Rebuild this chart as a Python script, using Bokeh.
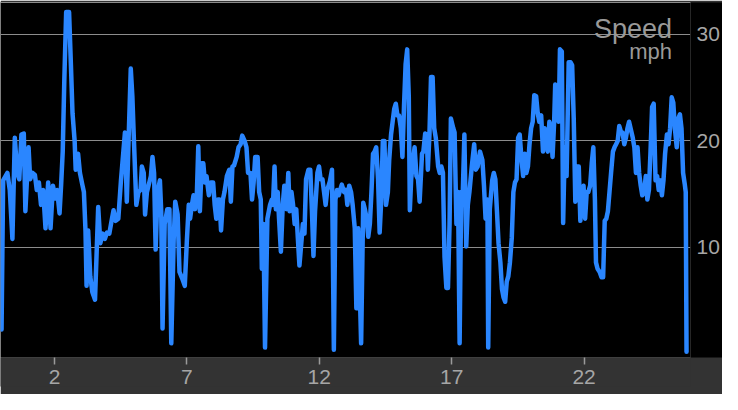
from bokeh.plotting import figure
from bokeh.models import Range1d, LinearAxis, FixedTicker, Label, ColumnDataSource
from bokeh.embed import file_html
from bokeh.resources import INLINE

# distance (mi) and speed (mph)
distance_mi = [
    0.00, 0.06, 0.22, 0.31, 0.41, 0.50, 0.59, 0.67, 0.75, 0.84, 0.90, 1.02, 1.08, 1.17, 1.26, 1.33,
    1.41, 1.49, 1.57, 1.66, 1.76, 1.85, 1.94, 2.04, 2.10, 2.19, 2.25, 2.31, 2.37, 2.44, 2.55, 2.62,
    2.68, 2.76, 2.80, 2.89, 2.96, 3.05, 3.11, 3.17, 3.21, 3.27, 3.35, 3.43, 3.53,
    3.65, 3.73, 3.82, 3.90, 3.98, 4.07, 4.17, 4.23, 4.31, 4.41, 4.51, 4.60, 4.66, 4.73, 4.80, 4.88,
    4.94, 5.00, 5.09, 5.17, 5.25, 5.30, 5.37, 5.42, 5.49, 5.58, 5.64, 5.70, 5.76, 5.82, 5.89, 5.98,
    6.03, 6.08, 6.16, 6.26, 6.34, 6.41, 6.50, 6.56, 6.65, 6.72, 6.82, 6.92,
    7.00, 7.07, 7.12, 7.19, 7.25, 7.31, 7.37, 7.43, 7.49, 7.56, 7.62, 7.68, 7.74, 7.83, 7.90, 7.99,
    8.05, 8.11, 8.17, 8.23, 8.29, 8.36, 8.42, 8.51, 8.60, 8.66, 8.72, 8.78, 8.88, 8.95, 9.03, 9.09,
    9.18, 9.25, 9.31, 9.40, 9.46, 9.52, 9.58, 9.67, 9.73, 9.79, 9.83, 9.89, 9.95, 10.04, 10.14, 10.21,
    10.25, 10.31, 10.36, 10.43, 10.48, 10.55, 10.62, 10.68, 10.76, 10.83, 10.88, 10.95, 11.01, 11.07,
    11.13, 11.19, 11.25, 11.32, 11.38, 11.44, 11.50, 11.59, 11.66, 11.72, 11.78, 11.84, 11.93, 11.99,
    12.05, 12.12, 12.17, 12.24, 12.30, 12.40, 12.48, 12.55, 12.61, 12.67, 12.73, 12.79, 12.85, 12.94,
    13.01, 13.06, 13.13, 13.20, 13.26, 13.34, 13.40, 13.47, 13.58, 13.66,
    13.72, 13.79, 13.85, 13.91, 13.97, 14.03, 14.09, 14.15, 14.22, 14.28, 14.34, 14.40, 14.46, 14.52,
    14.59, 14.64, 14.71, 14.77, 14.83, 14.89, 14.95, 15.01, 15.08, 15.14, 15.20, 15.26, 15.32, 15.38,
    15.42, 15.47, 15.54, 15.60, 15.67, 15.73, 15.79, 15.88, 15.93, 16.00, 16.06, 16.10, 16.16, 16.22,
    16.28, 16.34, 16.40, 16.49, 16.55, 16.61, 16.67, 16.73, 16.80, 16.86, 16.92, 16.97,
    17.06, 17.11, 17.18, 17.24, 17.30, 17.36, 17.42, 17.48, 17.55, 17.61, 17.67, 17.76, 17.85, 17.91,
    17.98, 18.07, 18.16, 18.22, 18.28, 18.35, 18.38, 18.44, 18.53, 18.59, 18.65, 18.71, 18.77, 18.84,
    18.90, 18.96, 19.02, 19.08, 19.14, 19.20, 19.27, 19.33, 19.39, 19.45, 19.51, 19.57, 19.64, 19.70,
    19.76, 19.82, 19.88, 19.94, 20.00, 20.06, 20.12, 20.19, 20.25, 20.31, 20.38,
    20.45, 20.51, 20.57, 20.63, 20.69, 20.75, 20.81, 20.87, 20.91, 20.97, 21.04, 21.09, 21.16, 21.21,
    21.27, 21.34, 21.42, 21.49, 21.55, 21.61, 21.67, 21.74, 21.80, 21.86, 21.92, 21.98, 22.04, 22.10,
    22.16, 22.23, 22.29, 22.35, 22.41, 22.45, 22.51, 22.59, 22.66, 22.72, 22.78, 22.84, 22.90, 22.96,
    23.02, 23.09, 23.15, 23.21, 23.27, 23.33, 23.40, 23.45, 23.52, 23.58, 23.64, 23.70,
    23.84, 23.90, 23.96, 24.02, 24.08, 24.14, 24.20, 24.27, 24.33, 24.39, 24.45, 24.51, 24.57, 24.63,
    24.70, 24.76, 24.82, 24.88, 24.94, 25.00, 25.06, 25.13, 25.19, 25.25, 25.31, 25.37, 25.43, 25.50,
    25.56, 25.62, 25.68, 25.74, 25.80, 25.84, 25.87,
]

speed_mph = [
    2.3, 16.3, 17.0, 15.4, 10.8, 20.3, 17.0, 16.4, 20.6, 20.7, 13.4, 19.4, 16.4, 17.0, 16.8, 15.4,
    16.1, 14.0, 15.4, 11.8, 16.1, 11.8, 15.8, 14.6, 15.4, 13.2, 15.9, 19.0, 25.7, 32.1, 32.1, 27.1,
    22.6, 20.0, 17.3, 18.8, 17.0, 15.9, 15.2, 11.6, 6.4, 11.6, 7.3, 5.8, 5.1,
    13.8, 10.4, 11.3, 10.8, 11.4, 11.3, 12.7, 13.5, 12.5, 12.7, 16.3, 19.0, 20.8, 14.3, 20.3, 26.8,
    24.2, 20.0, 14.0, 15.2, 15.4, 17.6, 17.0, 13.1, 15.2, 16.1, 16.7, 18.5, 17.0, 9.8, 15.2, 16.3,
    13.4, 2.4, 12.2, 13.6, 13.6, 1.0, 10.7, 14.3, 13.1, 7.7, 7.1, 6.4,
    10.7, 14.0, 12.7, 14.0, 14.9, 13.6, 14.5, 19.5, 13.4, 17.9, 17.9, 16.1, 16.7, 14.9, 16.1, 16.1,
    14.0, 12.7, 14.5, 14.5, 11.6, 14.5, 15.2, 16.7, 17.3, 14.3, 17.6, 17.7, 18.5, 19.4, 19.7, 20.5,
    20.0, 19.4, 17.0, 17.0, 14.5, 16.1, 18.5, 18.5, 15.2, 14.5, 8.0, 12.2, 0.6, 12.7, 14.0, 14.5,
    14.0, 17.6, 13.6, 15.2, 12.7, 9.6, 14.0, 15.8, 13.6, 17.0, 13.4, 15.2, 14.0, 12.2,
    13.6, 10.9, 8.3, 10.4, 12.2, 11.3, 16.4, 17.3, 17.3, 13.6, 9.2, 13.4, 17.0, 17.6,
    16.4, 16.4, 15.4, 14.0, 15.4, 16.2, 17.3, 0.4, 14.5, 15.4, 14.9, 15.4, 15.9, 15.2,
    15.4, 14.0, 15.8, 15.2, 14.0, 11.8, 4.3, 11.8, 1.0, 14.2,
    13.6, 12.7, 11.0, 12.2, 15.2, 18.8, 19.0, 19.4, 16.4, 11.4, 14.5, 20.0, 20.0, 14.0,
    15.2, 18.2, 20.6, 21.8, 23.0, 23.5, 22.4, 22.4, 21.2, 18.5, 23.3, 27.2, 28.6, 24.2,
    13.5, 16.4, 18.2, 19.4, 16.7, 16.4, 14.3, 18.8, 19.0, 20.7, 20.6, 17.3, 20.6, 26.0,
    26.0, 21.2, 20.3, 17.6, 17.0, 17.6, 17.0, 9.1, 6.2, 6.2, 12.2, 22.1,
    21.2, 20.8, 12.2, 15.2, 1.0, 15.2, 15.2, 20.6, 10.1, 14.0, 15.2, 17.6, 19.7, 17.3,
    17.6, 19.0, 18.2, 15.8, 12.7, 14.5, 0.6, 13.6, 16.3, 17.0, 16.4, 13.4, 10.4, 8.6,
    6.1, 5.3, 4.9, 6.8, 7.3, 8.6, 10.9, 15.2, 16.1, 16.4, 20.3, 20.6, 18.2, 16.7,
    18.8, 17.0, 17.6, 19.7, 21.2, 21.8, 24.3, 24.2, 22.6, 21.8, 22.4,
    19.0, 21.2, 20.3, 19.0, 21.8, 21.2, 18.5, 21.8, 25.3, 25.1, 21.8, 28.6, 28.4, 12.3,
    19.4, 16.7, 27.4, 27.4, 27.1, 22.1, 14.3, 17.6, 17.6, 12.5, 15.2, 15.8, 12.7, 15.2,
    15.2, 15.8, 17.9, 19.4, 14.5, 8.6, 8.0, 7.7, 7.2, 7.2, 12.5, 12.7, 13.4, 15.2,
    17.0, 19.0, 19.4, 19.7, 20.0, 21.4, 20.8, 20.8, 19.7, 20.3, 21.2, 21.8,
    20.3, 19.4, 17.0, 19.4, 17.0, 15.8, 14.9, 15.2, 16.7, 14.5, 15.4, 19.0, 23.2, 23.5,
    16.3, 16.7, 15.4, 16.3, 14.9, 16.3, 18.8, 20.6, 19.7, 21.2, 24.1, 23.6, 21.2, 19.4,
    22.1, 22.5, 21.2, 17.0, 16.0, 15.2, 0.2,
]

x_ticks = [2, 7, 12, 17, 22]
y_ticks = [10, 20, 30]
title_text = "Speed"
unit_text = "mph"

BLUE = "#2a86ff"
TEXT = "#a6a6a6"
GRID = "#8c8c8c"
BAND = "#333333"

p = figure(
    width=722, height=394,
    output_backend="svg", toolbar_location=None,
    x_range=Range1d(-0.04, 26.02), y_range=Range1d(-0.33, 33.0),
    y_axis_location="right",
    min_border_left=0, min_border_right=32, min_border_top=2, min_border_bottom=37,
)
p.background_fill_color = "black"
p.border_fill_color = BAND
p.outline_line_color = None

# x axis (bottom band)
xa = p.xaxis[0]
xa.ticker = FixedTicker(ticks=x_ticks)
xa.axis_line_color = None
xa.major_tick_in = 0
xa.major_tick_out = 7
xa.major_tick_line_color = "#9a9a9a"
xa.major_tick_line_width = 1.5
xa.minor_tick_line_color = None
xa.major_label_standoff = 5
xa.major_label_text_font = "Liberation Sans"
xa.major_label_text_font_size = "21px"
xa.major_label_text_color = TEXT
xa.background_fill_color = BAND

# y axis (right)
ya = p.yaxis[0]
ya.ticker = FixedTicker(ticks=y_ticks)
ya.axis_line_color = None
ya.major_tick_line_color = None
ya.minor_tick_line_color = None
ya.major_tick_in = 0
ya.major_tick_out = 0
ya.major_label_standoff = 6
ya.major_label_text_font = "Liberation Sans"
ya.major_label_text_font_size = "21px"
ya.major_label_text_color = TEXT
ya.background_fill_color = "black"

# top rule
top = LinearAxis(ticker=FixedTicker(ticks=[]), axis_line_color=GRID, axis_line_width=1,
                 major_tick_line_color=None, minor_tick_line_color=None,
                 major_tick_in=0, major_tick_out=0, major_label_standoff=0)
top.background_fill_color = "black"
p.add_layout(top, "above")

p.xgrid.visible = False
p.ygrid.ticker = FixedTicker(ticks=y_ticks)
p.ygrid.grid_line_color = GRID
p.ygrid.grid_line_width = 1

src = ColumnDataSource(data=dict(x=distance_mi, y=speed_mph))
p.line("x", "y", source=src, line_color=BLUE, line_width=4.5, line_join="round", line_cap="round")

p.add_layout(Label(x=25.32, y=30.5, text=title_text, text_align="right", text_baseline="alphabetic",
                   text_font="Liberation Sans", text_font_size="27px", text_color="#999999"))
p.add_layout(Label(x=25.32, y=28.4, text=unit_text, text_align="right", text_baseline="alphabetic",
                   text_font="Liberation Sans", text_font_size="22px", text_color="#999999"))

open("out.html", "w").write(file_html(p, INLINE))
